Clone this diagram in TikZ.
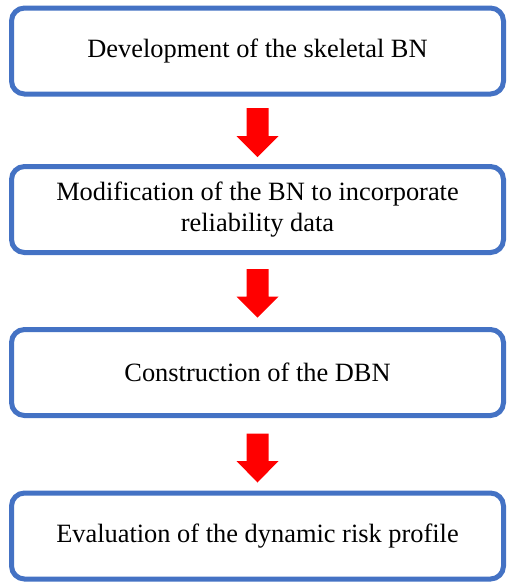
\documentclass[tikz,border=0pt]{standalone}
\usepackage{fontspec}
\setmainfont{Liberation Serif}
\usetikzlibrary{calc}
\definecolor{boxblue}{HTML}{4472C4}
\definecolor{arrowred}{HTML}{FF0000}
\tikzset{
  stage/.style={draw=boxblue, line width=5pt, rounded corners=13pt, fill=white,
    minimum width=492pt, minimum height=86pt, align=center, inner sep=0pt,
    font=\fontsize{26.4}{31}\selectfont},
  blockarrow/.style={fill=arrowred, draw=none},
}
\begin{document}
\begin{tikzpicture}[x=1pt,y=-1pt]
  \useasboundingbox (0,0) rectangle (507,582);
  \node[stage] (s1) at (257.5,51) {Development of the skeletal BN};
  \node[stage] (s2) at (257.5,209.5) {Modification of the BN to incorporate\\reliability data};
  \node[stage] (s3) at (257.5,372.5) {Construction of the DBN};
  \node[stage] (s4) at (257.5,536) {Evaluation of the dynamic risk profile};
  % red block arrows between consecutive stages
  \foreach \a/\b/\top/\neck/\tip in {s1/s2/108/136/157, s2/s3/269/296.5/317.5, s3/s4/433.5/461/482.5} {
    \coordinate (t-\a) at (257.5,\tip);
    \fill[blockarrow] (246.5,\top) -- (268.5,\top) -- (268.5,\neck) -- (278.5,\neck)
      -- (t-\a) -- (236.5,\neck) -- (246.5,\neck) -- cycle;
  }
\end{tikzpicture}
\end{document}
